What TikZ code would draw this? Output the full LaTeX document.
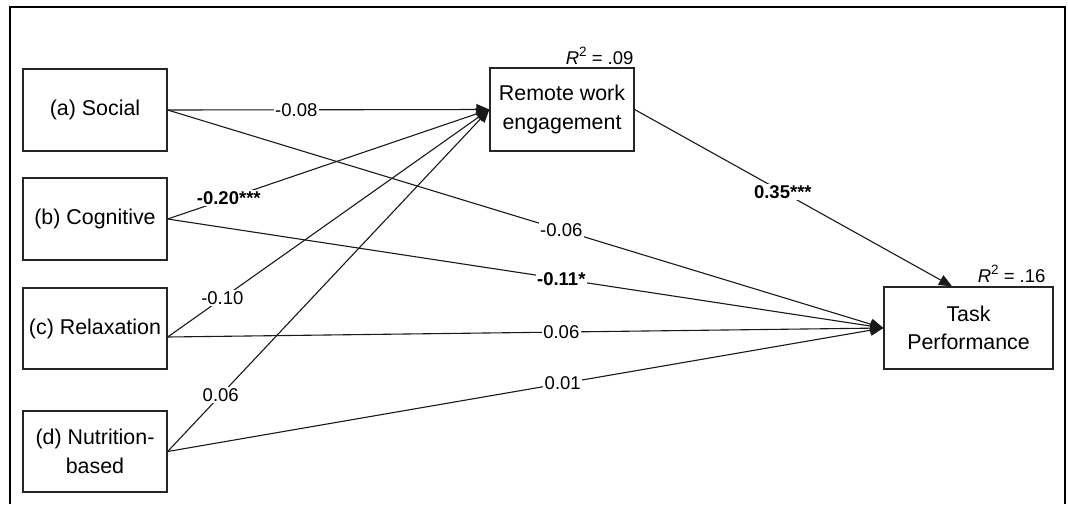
\documentclass[tikz,border=0pt]{standalone}
\usepackage{fontspec}
\setmainfont{Liberation Sans}
\usetikzlibrary{arrows.meta,calc}

\newcommand{\sqtwo}{\raisebox{0.42em}{\fontsize{13.5}{13.5}\selectfont 2}}

\begin{document}
\begin{tikzpicture}[x=1pt,y=-1pt,
  box/.style={draw=black!85,line width=1.3pt,minimum width=144pt,minimum height=82pt,
    inner sep=0pt,align=center,font=\fontsize{21.4}{28.5}\selectfont},
  conn/.style={draw=black!90,line width=1.1pt,-{Triangle[length=13pt,width=11pt]}},
  coef/.style={fill=white,inner sep=1.5pt,font=\fontsize{18.5}{20}\selectfont},
  rsq/.style={inner sep=0pt,font=\fontsize{18.5}{20}\selectfont}]

\useasboundingbox (0,0) rectangle (1068,504);
\fill[white] (0,0) rectangle (1068,504);
% outer frame (open at the bottom)
\draw[line width=2.2pt] (10,504) -- (10,7) -- (1065,7) -- (1065,504);

% predictors
\node[box] (a) at (95,110) {(a) Social};
\node[box] (b) at (95,219) {(b) Cognitive};
\node[box,minimum height=81pt] (c) at (95,328.5) {(c) Relaxation};
\node[box,minimum height=81pt] (d) at (95,451.5) {(d) Nutrition-\\based};

% mediator and outcome
\node[box,minimum height=83pt] (rwe) at (562,109.5) {Remote work\\engagement};
\node[box,minimum width=169pt] (tp) at (968.5,328) {Task\\Performance};

\node[rsq,anchor=base east] (r1) at ($(rwe.north east)+(-1,-3)$) {\textit{R}\sqtwo{} = .09};
\node[rsq,anchor=base east] (r2) at ($(tp.north east)+(-8,-4)$) {\textit{R}\sqtwo{} = .16};

\coordinate (cOut) at ($(c.east)+(0,8.5)$);
\coordinate (tpTop) at ($(tp.north)+(-16.5,0)$);

% paths to remote work engagement
\draw[conn] (a.east) -- node[coef,pos=0.40] {-0.08} (rwe.west);
\draw[conn] (b.east) -- node[coef,pos=0.19] {\textbf{-0.20***}} (rwe.west);
\draw[conn] (cOut) -- node[coef,pos=0.17] {-0.10} (rwe.west);
\draw[conn] (d.east) -- node[coef,pos=0.165] {0.06} (rwe.west);

% paths to task performance
\draw[conn] (a.east) -- node[coef,pos=0.55] {-0.06} (tp.west);
\draw[conn] (b.east) -- node[coef,pos=0.55] {\textbf{-0.11*}} (tp.west);
\draw[conn] (cOut) -- node[coef,pos=0.55] {0.06} (tp.west);
\draw[conn] (d.east) -- node[coef,pos=0.552] {0.01} (tp.west);

% mediator to outcome
\draw[conn] (rwe.east) -- node[coef,pos=0.467] {\textbf{0.35***}} (tpTop);
\end{tikzpicture}
\end{document}
